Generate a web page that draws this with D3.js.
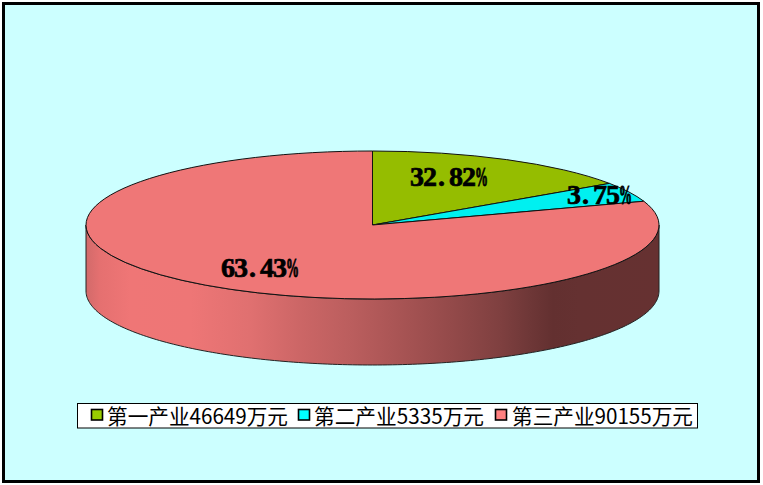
<!DOCTYPE html>
<html>
<head>
<meta charset="utf-8">
<script src="https://cdn.jsdelivr.net/npm/d3@7"></script>
<style>
html, body { margin: 0; padding: 0; background: #fff; }
svg { display: block; }
.pct { font-family: "Liberation Serif", serif; font-weight: bold; font-size: 28px; fill: #000; stroke: #000; stroke-width: .7px; }
.sign { stroke-width: 1.1px; }
.leg { font-family: "Noto Sans CJK SC", sans-serif; font-size: 21px; fill: #000; }
</style>
</head>
<body>
<svg id="chart" width="763" height="485"></svg>
<script>
// labels and amounts as printed on the chart
const categories = ["第一产业", "第二产业", "第三产业"];
const amounts = [46649, 5335, 90155];
const pctLabels = ["32.82%", "3.75%", "63.43%"];
// slice sizes as they look on the drawn ellipse (not the same as the printed percents)
const drawnShares = [15.5, 4.3, 80.2];
const colors = ["#95bd00", "#00f0f0", "#ef7777"];
const swatchColors = ["#99cc00", "#00ffff", "#ff8080"];

// side wall shade, left to right
const wallStops = [
  [86, "#d26a6a"], [100, "#e57070"], [130, "#ef7676"], [190, "#ee7676"], [250, "#e07070"],
  [300, "#cc6666"], [350, "#bb5e5e"], [400, "#a85454"], [450, "#944a4a"], [500, "#7f4040"],
  [530, "#6e3737"], [553, "#633030"], [580, "#653131"], [659, "#663131"]
];

const W = 763, H = 485;
const cx = 372.5, cy = 225, rx = 286.5, ry = 74, depth = 66;

const svg = d3.select("#chart");
svg.append("rect").attr("x", 3.5).attr("y", 3.5).attr("width", W - 8).attr("height", H - 7)
  .attr("fill", "#ccffff").attr("stroke", "#000").attr("stroke-width", 3);

const xWall = d3.scaleLinear().domain([cx - rx, cx + rx]).range([0, 1]);
const grad = svg.append("defs").append("linearGradient").attr("id", "wall");
wallStops.forEach(s => grad.append("stop").attr("offset", xWall(s[0])).attr("stop-color", s[1]));

// front half of the ellipse, dropped by depth
const ell = d3.range(0, 181).map(d => {
  const a = d * Math.PI / 180;
  return [cx + rx * Math.cos(a), cy + ry * Math.sin(a)];
});
const wallPts = ell.map(p => [p[0], p[1] + depth]).concat(ell.slice().reverse());
svg.append("path").attr("d", d3.line()(wallPts) + "Z")
  .attr("fill", "url(#wall)").attr("stroke", "#222").attr("stroke-width", 1);

// top face
const pie = d3.pie().sort(null).value(d => d)(drawnShares);
const arc = d3.arc().innerRadius(0).outerRadius(rx);
svg.append("g").attr("transform", `translate(${cx},${cy}) scale(1,${ry / rx})`)
  .selectAll("path").data(pie).join("path")
  .attr("d", arc).attr("fill", (d, i) => colors[i])
  .attr("stroke", "#111").attr("stroke-width", 1).attr("vector-effect", "non-scaling-stroke");

// percent labels: fixed 13px cells like the original font, % squeezed into the last one
const pctLeft = [410, 567, 221];
const pctBase = [186, 204, 277];
pctLabels.forEach((label, i) => {
  const num = label.slice(0, -1);
  const xs = Array.from(num, (c, k) => pctLeft[i] + k * 13 + (c === "." ? 2 : 0)).join(" ");
  svg.append("text").attr("class", "pct").attr("x", xs).attr("y", pctBase[i]).text(num);
  svg.append("text").attr("class", "pct sign").attr("x", pctLeft[i] + num.length * 13).attr("y", pctBase[i])
    .attr("textLength", 13).attr("lengthAdjust", "spacingAndGlyphs").text("%");
});

// legend
svg.append("rect").attr("x", 77.5).attr("y", 403.5).attr("width", 620).attr("height", 24.5)
  .attr("fill", "#fff").attr("stroke", "#000").attr("stroke-width", 1);
const swatchX = [91, 298, 495];
const textX = [107, 314, 512];
const textW = [181, 170, 181];
swatchX.forEach((x, i) => {
  svg.append("rect").attr("x", x + .5).attr("y", 409.5).attr("width", 11).attr("height", 10.5)
    .attr("fill", swatchColors[i]).attr("stroke", "#000").attr("stroke-width", 1.6);
  svg.append("text").attr("class", "leg").attr("x", textX[i]).attr("y", 424)
    .attr("textLength", textW[i]).attr("lengthAdjust", "spacingAndGlyphs")
    .text(categories[i] + amounts[i] + "万元");
});
</script>
</body>
</html>
